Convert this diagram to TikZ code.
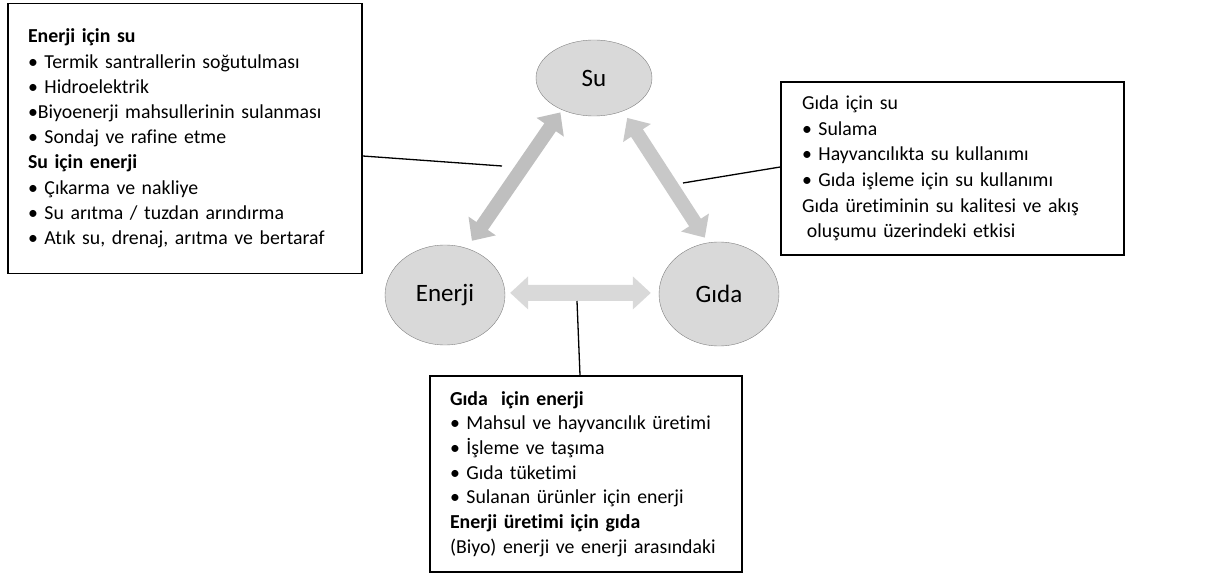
\documentclass[tikz,border=0pt]{standalone}
\usepackage{fontspec}
\setmainfont{Carlito}[Ligatures=NoCommon]
\usepackage{tikz}
\usetikzlibrary{shapes}
\usetikzlibrary{arrows.meta}
\definecolor{okacik}{HTML}{D9D9D9}
\definecolor{okorta}{HTML}{BFBFBF}
\definecolor{okgri}{HTML}{C8C8C8}
\hyphenpenalty=10000
\exhyphenpenalty=10000

\begin{document}
\begin{tikzpicture}[x=1pt, y=-1pt,
	dugum/.style={ellipse, draw=gray, fill=gray!30, font=\fontsize{25}{30}\selectfont},
	kutu/.style={rectangle, draw, line width=1.5pt, align=left, inner xsep=20pt},
	okbuyuk/.style={line width=14pt, {Triangle[width=32pt,length=18pt]}-{Triangle[width=32pt,length=18pt]}},
	baglanti/.style={line width=1.3pt}]
				\useasboundingbox (0,0) rectangle (1208,580);

				\node[dugum, minimum width=116pt, minimum height=76pt] (su) at (594,78) {Su};
				\node[dugum, minimum width=120pt, minimum height=100pt] (enerji) at (445,295) {Enerji};
				\node[dugum, minimum width=120pt, minimum height=104pt] (gida) at (719,294) {Gıda};

				\draw[okbuyuk, draw=okorta, shorten <=3pt, shorten >=9pt] (su.225) -- (enerji.65);
				\draw[okbuyuk, draw=okgri, shorten <=8pt, shorten >=6pt] (su.311) -- (gida.102);
				\draw[okbuyuk, line width=16pt, draw=okacik, shorten <=5pt, shorten >=8pt] (enerji.2) -- (gida.179);

				\node[kutu, minimum width=354pt, minimum height=270pt, text width=314pt, font=\fontsize{19.8}{25.2}\selectfont] (enerjisu) at (185,138.5) {\textbf{Enerji için su}\\
					• Termik santrallerin soğutulması\\
					• Hidroelektrik\\
					•Biyoenerji mahsullerinin sulanması\\
					• Sondaj ve rafine etme\\
					\textbf{Su için enerji}\\
					• Çıkarma ve nakliye\\
					• Su arıtma / tuzdan arındırma\\
					• Atık su, drenaj, arıtma ve bertaraf};
				\node[kutu, minimum width=343pt, minimum height=173pt, text width=301pt, inner xsep=21pt, font=\fontsize{19.8}{25.7}\selectfont] (gidasu) at (952.5,168.5) {Gıda için su\\
					• Sulama\\
					• Hayvancılıkta su kullanımı\\
					• Gıda işleme için su kullanımı\\
					Gıda üretiminin su kalitesi ve akış\\
					\hspace{0.25em}oluşumu üzerindeki etkisi};
				\node[kutu, minimum width=312pt, minimum height=196pt, text width=272pt, font=\fontsize{19.8}{24.7}\selectfont] (gidaenerji) at (586,474) {\textbf{Gıda\ \ için enerji}\\
					• Mahsul ve hayvancılık üretimi\\
					• İşleme ve taşıma\\
					• Gıda tüketimi\\
					• Sulanan ürünler için enerji\\
					\textbf{Enerji üretimi için gıda}\\
					(Biyo) enerji ve enerji arasındaki};

				\coordinate (solok) at (502,166);
				\coordinate (sagok) at (683,183);
				\coordinate (altok) at (577,301);
				\draw[baglanti] ([yshift=-17.5pt]enerjisu.east) -- (solok);
				\draw[baglanti] ([yshift=1.5pt]gidasu.west) -- (sagok);
				\draw[baglanti] ([xshift=-6pt]gidaenerji.north) -- (altok);
			\end{tikzpicture}
\end{document}
